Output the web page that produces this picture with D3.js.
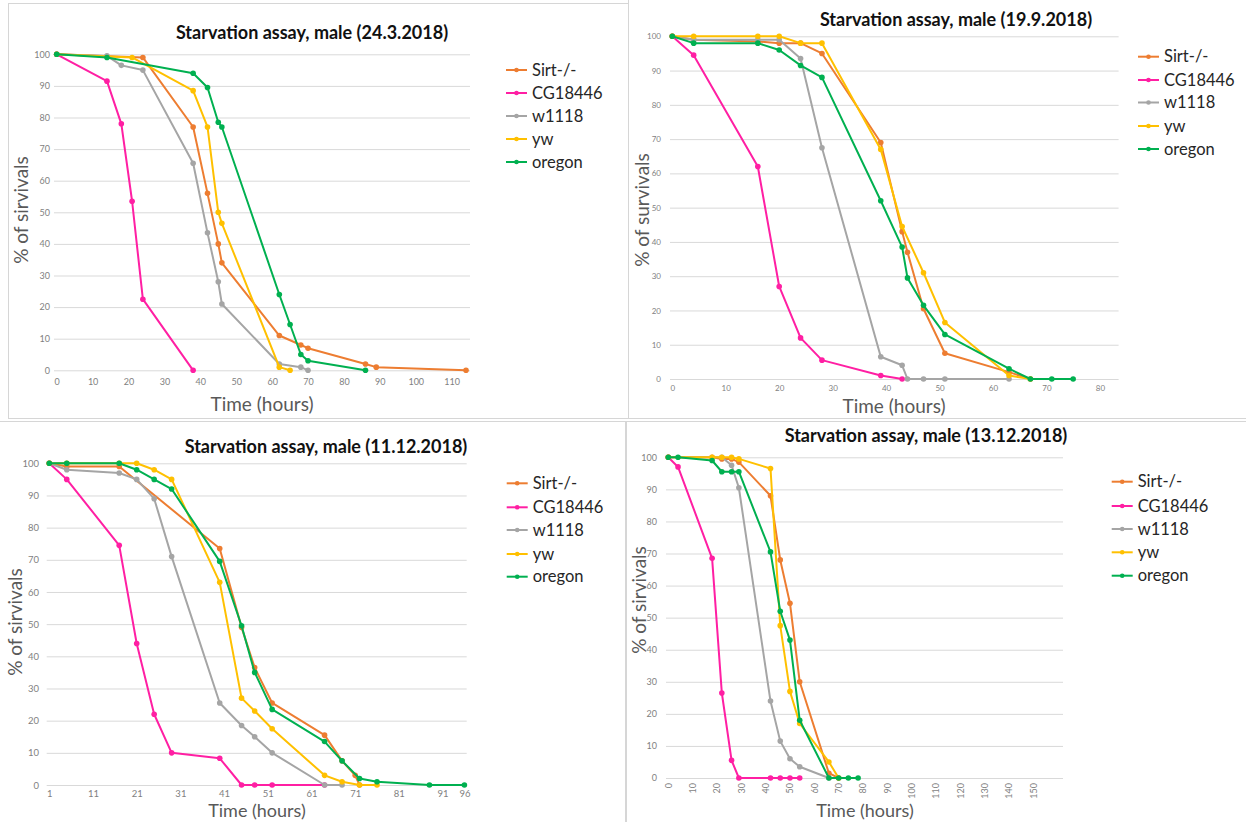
<!DOCTYPE html>
<html>
<head>
<meta charset="utf-8">
<script src="https://cdn.jsdelivr.net/npm/d3@7"></script>
<style>
  body { margin: 0; background: #fff; }
  svg { display: block; font-family: Lato, "Open Sans", sans-serif; }
</style>
</head>
<body>
<svg id="chart" width="1246" height="822"></svg>
<script>
var seriesNames = ["Sirt-/-", "CG18446", "w1118", "yw", "oregon"];
var seriesColors = ["#ed7d31", "#ff1fa3", "#a5a5a5", "#ffc000", "#00b050"];
var yTicks = [0, 10, 20, 30, 40, 50, 60, 70, 80, 90, 100];

/* 24.3.2018 */
var sirtA = [[0,100],[24,99],[38,77],[42,56],[45,40],[46,34],[62,11],[68,8],[70,7],[86,2],[89,1],[114,0]];
var cgA = [[0,100],[14,91.5],[18,78],[21,53.5],[24,22.5],[38,0]];
var w1118A = [[0,100],[14,99.5],[18,96.5],[24,95],[38,65.5],[42,43.5],[45,28],[46,21],[62,2],[68,1],[70,0]];
var ywA = [[0,100],[21,99],[38,88.5],[42,77],[45,50],[46,46.5],[62,1],[65,0]];
var oregonA = [[0,100],[14,99],[38,94],[42,89.5],[45,78.5],[46,77],[62,24],[65,14.5],[68,5],[70,3],[86,0]];
var xTicksA = [0, 10, 20, 30, 40, 50, 60, 70, 80, 90, 100, 110];

/* 19.9.2018 */
var sirtB = [[0,100],[4,99],[16,98.5],[20,98],[24,98],[28,95],[39,69],[43,43],[44,37],[47,20.5],[51,7.5],[63,2],[67,0]];
var cgB = [[0,100],[4,94.5],[16,62],[20,27],[24,12],[28,5.5],[39,1],[43,0]];
var w1118B = [[0,100],[4,99],[16,99],[20,99],[24,93.5],[28,67.5],[39,6.5],[43,4],[44,0],[47,0],[51,0],[63,0]];
var ywB = [[0,100],[4,100],[16,100],[20,100],[24,98],[28,98],[39,67],[43,44.5],[47,31],[51,16.5],[63,1],[67,0]];
var oregonB = [[0,100],[4,98],[16,98],[20,96],[24,91.5],[28,88],[39,52],[43,38.5],[44,29.5],[47,21.5],[51,13],[63,3],[67,0],[71,0],[75,0]];
var xTicksB = [0, 10, 20, 30, 40, 50, 60, 70, 80];

/* 11.12.2018 */
var sirtC = [[1,100],[5,99],[17,99],[40,73.5],[45,49],[48,36.5],[52,25.5],[64,15.5],[68,7.5],[71,3],[72,0]];
var cgC = [[1,100],[5,95],[17,74.5],[21,44],[25,22],[29,10],[40,8.3],[45,0],[48,0],[52,0],[64,0]];
var w1118C = [[1,100],[5,98],[17,97],[21,95],[25,89],[29,71],[40,25.5],[45,18.5],[48,15],[52,10],[64,0],[68,0]];
var ywC = [[1,100],[5,100],[17,100],[21,100],[25,98],[29,95],[40,63],[45,27],[48,23],[52,17.5],[64,3],[68,1],[72,0],[76,0]];
var oregonC = [[1,100],[5,100],[17,100],[21,98],[25,95],[29,92],[40,69.5],[45,49.5],[48,35],[52,23.5],[64,13.5],[68,7.5],[72,2],[76,1],[88,0],[96,0]];
var xTicksC = [1, 11, 21, 31, 41, 51, 61, 71, 81, 91, 96];

/* 13.12.2018 */
var sirtD = [[0,100],[18,100],[22,99.5],[26,99.5],[29,98.5],[42,88],[46,68],[50,54.5],[54,30],[66,1.5],[70,0]];
var cgD = [[0,100],[4,97],[18,68.5],[22,26.5],[26,5.5],[29,0],[42,0],[46,0],[50,0],[54,0]];
var w1118D = [[0,100],[22,100],[26,97.5],[29,90.5],[42,24],[46,11.5],[50,6],[54,3.5],[66,0]];
var ywD = [[0,100],[18,100],[22,100],[26,100],[29,99.5],[42,96.5],[46,47.5],[50,27],[54,17],[66,5],[70,0]];
var oregonD = [[0,100],[4,100],[18,99],[22,95.5],[26,95.5],[29,95.5],[42,70.5],[46,52],[50,43],[54,18],[66,0],[70,0],[74,0],[78,0]];
var xTicksD = [0, 10, 20, 30, 40, 50, 60, 70, 80, 90, 100, 110, 120, 130, 140, 150];

var svg = d3.select("#chart");

/* panel frames */
svg.append("rect").attr("width", 1246).attr("height", 822).attr("fill", "#fff");
var frames = [[8.5, 3.5, 620, 415], [628.5, -2, 640, 420.5], [-2, 421.5, 627.5, 410], [626.5, 421.5, 640, 410]];
svg.selectAll("rect.frame").data(frames).enter().append("rect")
    .attr("class", "frame")
    .attr("x", function(d) { return d[0]; })
    .attr("y", function(d) { return d[1]; })
    .attr("width", function(d) { return d[2]; })
    .attr("height", function(d) { return d[3]; })
    .attr("fill", "none")
    .attr("stroke", "#d6d6d6");

var panels = [
  { title: "Starvation assay, male (24.3.2018)", yTitle: "% of sirvivals",
    data: [sirtA, cgA, w1118A, ywA, oregonA], xTicks: xTicksA,
    xDomain: [0, 115], xRange: [56.7, 469.6], yRange: [370.3, 54.3], grid: [54, 470],
    yLabelX: 50, xLabelY: 379, tickSize: 9, titleX: 312, titleY: 39,
    yTitleX: 28, yTitleY: 210, xTitleX: 262, xTitleY: 411, xTitleSize: 19,
    legY: [70, 93, 116, 139, 162], legX: 506 },
  { title: "Starvation assay, male (19.9.2018)", yTitle: "% of survivals",
    data: [sirtB, cgB, w1118B, ywB, oregonB], xTicks: xTicksB,
    xDomain: [0, 83.5], xRange: [672.3, 1118.6], yRange: [379, 36.3], grid: [670, 1118.6],
    yLabelX: 661, xLabelY: 385, tickSize: 8, titleX: 956, titleY: 26,
    yTitleX: 649, yTitleY: 210, xTitleX: 894, xTitleY: 413, xTitleSize: 19,
    legY: [56.7, 80, 102.5, 126, 149], legX: 1138 },
  { title: "Starvation assay, male (11.12.2018)", yTitle: "% of sirvivals",
    data: [sirtC, cgC, w1118C, ywC, oregonC], xTicks: xTicksC,
    xDomain: [1, 96], xRange: [49.3, 464.4], yRange: [785, 463.3], grid: [46.7, 466.7],
    yLabelX: 39, xLabelY: 790.5, tickSize: 9.5, titleX: 326, titleY: 453,
    yTitleX: 22, yTitleY: 622, xTitleX: 257, xTitleY: 816.5, xTitleSize: 18,
    legY: [483.3, 507.3, 530, 554, 576.7], legX: 506.7 },
  { title: "Starvation assay, male (13.12.2018)", yTitle: "% of sirvivals",
    data: [sirtD, cgD, w1118D, ywD, oregonD], xTicks: xTicksD, rotateX: true,
    xDomain: [0, 162], xRange: [668.3, 1062.5], yRange: [778, 457.3], grid: [666, 1063],
    yLabelX: 657, xLabelY: 783, tickSize: 9, titleX: 926, titleY: 441.5,
    yTitleX: 646, yTitleY: 600, xTitleX: 865, xTitleY: 816.5, xTitleSize: 18,
    legY: [481.7, 506, 529, 552.3, 575.7], legX: 1111.7 }
];

panels.forEach(function(p) {
  var x = d3.scaleLinear().domain(p.xDomain).range(p.xRange);
  var y = d3.scaleLinear().domain([0, 100]).range(p.yRange);
  var g = svg.append("g");

  /* gridlines */
  var grid = g.append("g")
      .attr("transform", "translate(" + p.grid[0] + ",0)")
      .call(d3.axisLeft(y).tickValues(yTicks).tickSize(-(p.grid[1] - p.grid[0])).tickFormat(""));
  grid.select(".domain").remove();
  grid.selectAll("line").attr("stroke", "#d9d9d9");

  /* Y labels */
  var ya = g.append("g")
      .attr("transform", "translate(" + p.yLabelX + ",0)")
      .call(d3.axisLeft(y).tickValues(yTicks).tickSize(0).tickPadding(0));
  ya.select(".domain").remove();
  ya.selectAll("text").attr("fill", "#7f7f7f").attr("font-size", p.tickSize).attr("font-family", "Lato, sans-serif");

  /* X labels */
  var xa = g.append("g")
      .attr("transform", "translate(0," + p.xLabelY + ")")
      .call(d3.axisBottom(x).tickValues(p.xTicks).tickSize(0).tickPadding(0));
  xa.select(".domain").remove();
  xa.selectAll("text").attr("fill", "#7f7f7f").attr("font-size", p.tickSize).attr("font-family", "Lato, sans-serif");
  if (p.rotateX) {
    xa.selectAll("text")
        .attr("transform", "rotate(-90)")
        .attr("text-anchor", "end")
        .attr("x", 0).attr("y", 0).attr("dy", "0.32em");
  }

  /* lines */
  var line = d3.line()
      .x(function(d) { return x(d[0]); })
      .y(function(d) { return y(d[1]); });

  p.data.forEach(function(s, i) {
    g.append("path")
        .datum(s)
        .attr("fill", "none")
        .attr("stroke", seriesColors[i])
        .attr("stroke-width", 2)
        .attr("stroke-linejoin", "round")
        .attr("d", line);
    g.selectAll(null).data(s).enter().append("circle")
        .attr("cx", function(d) { return x(d[0]); })
        .attr("cy", function(d) { return y(d[1]); })
        .attr("r", 2.8)
        .attr("fill", seriesColors[i]);
  });

  /* titles */
  g.append("text")
      .attr("x", p.titleX).attr("y", p.titleY)
      .attr("text-anchor", "middle")
      .attr("font-size", 18).attr("font-weight", "bold")
      .attr("fill", "#111")
      .text(p.title);

  g.append("text")
      .attr("transform", "translate(" + p.yTitleX + "," + p.yTitleY + ") rotate(-90)")
      .attr("text-anchor", "middle")
      .attr("font-size", 19)
      .attr("fill", "#595959")
      .text(p.yTitle);

  g.append("text")
      .attr("x", p.xTitleX).attr("y", p.xTitleY)
      .attr("text-anchor", "middle")
      .attr("font-size", p.xTitleSize)
      .attr("fill", "#595959")
      .text("Time (hours)");

  /* legend */
  var leg = g.append("g").selectAll("g")
      .data(seriesNames)
      .enter().append("g")
      .attr("transform", function(d, i) { return "translate(" + p.legX + "," + p.legY[i] + ")"; });
  leg.append("line")
      .attr("x1", 0).attr("x2", 21)
      .attr("stroke", function(d, i) { return seriesColors[i]; })
      .attr("stroke-width", 2);
  leg.append("circle")
      .attr("cx", 10.5).attr("r", 2.3)
      .attr("fill", function(d, i) { return seriesColors[i]; });
  leg.append("text")
      .attr("x", 26)
      .attr("dy", "0.35em")
      .attr("font-size", 16.5)
      .attr("fill", "#262626")
      .text(function(d) { return d; });
});
</script>
</body>
</html>
